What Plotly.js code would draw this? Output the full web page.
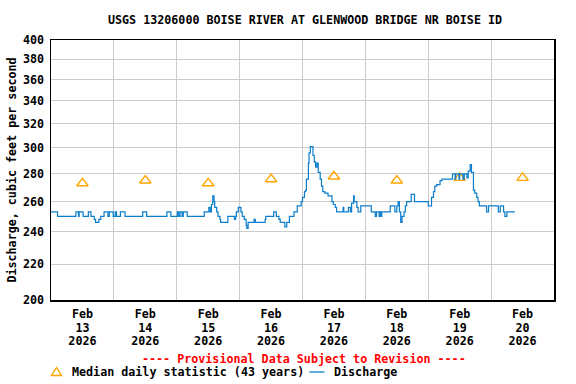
<!DOCTYPE html>
<html>
<head>
<meta charset="utf-8">
<script src="https://cdn.plot.ly/plotly-3.0.1.min.js"></script>
<style>html,body{margin:0;padding:0;background:#fff}#chart{width:576px;height:384px}</style>
</head>
<body>
<div id="chart"></div>
<script>
// ---- data ----
// discharge change points: hours since Feb 13 2026 00:00, and discharge (cfs)
const dischargeHours = [0,2.5,9.5,10.5,10.75,12.25,14.25,15.25,16.5,17,18.25,19,20.25,21.75,22.25,23.75,24.5,25,26.5,28.25,35,36.5,44.25,45.75,48.25,48.75,49.25,50,50.5,52,58.5,60.25,60.75,61.25,61.75,62.25,62.5,63.25,63.75,64.5,64.75,67.5,70,70.5,70.75,71.5,72.5,73,73.75,74.5,74.75,75.25,77.5,78,81.75,82,85,86,87,87.5,89.25,90,91,92.75,94,95.5,96,96.75,97.25,97.5,98.25,98.5,99,100,100.5,101,101.5,102,102.75,103.25,103.75,104.5,105.75,107.25,107.75,108.5,109,111.5,111.75,113.5,114.25,114.75,115.5,115.75,116.75,117.25,118.25,122.25,123.75,124.25,125.25,125.5,126,126.25,129.5,131.25,132,132.5,133,133.5,134,134.75,135.25,135.75,137.5,138.75,144,145.25,146,146.5,147.25,148.5,149.25,153.25,154.25,154.5,155.75,156,157.25,157.75,158.75,159.25,160,160.5,161.25,161.75,162.5,163,163.5,166.25,167,170.75,171.5,172.75,173.25,174,177];
const dischargeCfs = [253,250,253,250,253,250,253,250,248,246,248,250,253,250,253,250,253,250,253,250,253,250,253,250,253,250,253,250,253,250,253,256,253,258,264,260,256,253,250,248,246,250,248,250,253,256,253,250,248,244,242,246,248,246,248,250,253,250,248,246,243,246,250,253,257,260,263,267,268,276,288,296,301,294,289,285,288,281,276,271,267,266,264,260,258,256,253,256,253,256,253,259,264,260,256,253,257,253,250,253,250,253,250,253,257,253,257,260,253,246,250,253,257,260,265,260,257,263,267,271,272,275,276,280,276,280,276,280,276,280,277,282,287,281,268,266,263,260,257,253,257,253,257,253,250,253,253];
// median daily statistic (43 years), at noon of each day
const medianDays = [13,14,15,16,17,18,19,20];
const medianCfs = [273,275,273,276,278,275,277,277];
const yTicks = [200,220,240,260,280,300,320,340,360,380,400];
const medianLabel = 'Median daily statistic (43 years)';
const dischargeLabel = 'Discharge';

// ---- helpers ----
function pad(n){return (n<10?'0':'')+n;}
function hoursToDate(h){
  const totalMin = Math.round(h*60);
  const d = 13 + Math.floor(totalMin/1440);
  const rem = totalMin % 1440;
  return '2026-02-' + pad(d) + ' ' + pad(Math.floor(rem/60)) + ':' + pad(rem%60);
}
const dischargeTimes = dischargeHours.map(hoursToDate);
const medianTimes = medianDays.map(d => '2026-02-' + pad(d) + ' 12:00');
const midnights = [13,14,15,16,17,18,19,20,21].map(d => '2026-02-' + pad(d) + ' 00:00');
const sp = s => '<span style="font-size:11.7px">' + s + '</span>';
const tickText = medianDays.map(d => sp('Feb') + '<br>' + sp(String(d)) + '<br>' + sp('2026'));

const FONT = 'DejaVu Sans Mono, Liberation Mono, monospace';
const baseFont = {family: FONT, size: 11.7, color: '#000', weight: 'bold'};
const ORANGE = '#FFA500', BLUE = '#0a7dcc';

// page geometry helpers (plot area: 51..554 x, 40..300 y)
const M = {l: 51, r: 22, t: 40, b: 84};
const PW = 576 - M.l - M.r, PH = 384 - M.t - M.b;
const px = x => (x - M.l) / PW;
const py = y => (384 - M.b - y) / PH;

const traces = [
  {
    x: medianTimes, y: medianCfs, type: 'scatter', mode: 'markers',
    name: medianLabel,
    marker: {symbol: 'triangle-up-open', size: 10, color: ORANGE, line: {width: 1.4, color: ORANGE}},
    hoverinfo: 'skip'
  },
  {
    x: dischargeTimes, y: dischargeCfs, type: 'scatter', mode: 'lines',
    name: dischargeLabel,
    line: {color: BLUE, width: 1.2, shape: 'hv'},
    hoverinfo: 'skip'
  }
];

const layout = {
  width: 576, height: 384,
  margin: {l: M.l, r: M.r, t: M.t, b: M.b, pad: 0, autoexpand: false},
  paper_bgcolor: '#fff', plot_bgcolor: '#fff',
  font: baseFont,
  showlegend: false,
  title: {
    text: 'USGS 13206000 BOISE RIVER AT GLENWOOD BRIDGE NR BOISE ID',
    font: baseFont, xref: 'paper', x: 0.505, xanchor: 'center',
    yref: 'container', y: 1 - 20/384, yanchor: 'middle'
  },
  xaxis: {
    type: 'date',
    range: [midnights[0], midnights[midnights.length-1]],
    tickmode: 'array', tickvals: medianTimes, ticktext: tickText,
    showgrid: false, ticks: '', automargin: false,
    tickfont: {family: FONT, size: 10.4, color: '#000', weight: 'bold'},
    ticklabelstandoff: 4,
    showline: true, linecolor: '#000', linewidth: 1.5, mirror: true,
    zeroline: false, fixedrange: true,
    minor: {tickmode: 'array', tickvals: midnights, showgrid: true, gridcolor: '#cccccc', gridwidth: 1, ticks: ''}
  },
  yaxis: {
    type: 'log',
    range: [Math.log10(200), Math.log10(400)],
    tickmode: 'array', tickvals: yTicks, ticktext: yTicks.map(String),
    showgrid: true, gridcolor: '#cccccc', gridwidth: 1,
    ticks: '', tickfont: baseFont, ticklabelstandoff: 3,
    showline: true, linecolor: '#000', linewidth: 1.5, mirror: true,
    zeroline: false, fixedrange: true, automargin: false,
    title: {text: 'Discharge, cubic feet per second', font: baseFont, standoff: 4}
  },
  shapes: [
    // legend symbols
    {type: 'path', xref: 'paper', yref: 'paper',
     path: 'M' + px(51.5) + ',' + py(375.5) + ' L' + px(61.5) + ',' + py(375.5) + ' L' + px(56.5) + ',' + py(367.5) + ' Z',
     line: {color: ORANGE, width: 1.4}, fillcolor: 'rgba(0,0,0,0)'},
    {type: 'line', xref: 'paper', yref: 'paper',
     x0: px(309.5), x1: px(324.5), y0: py(372), y1: py(372),
     line: {color: BLUE, width: 1.3}}
  ],
  annotations: [
    {text: '---- Provisional Data Subject to Revision ----',
     xref: 'paper', yref: 'paper', x: px(304), y: py(358.5),
     xanchor: 'center', yanchor: 'middle', showarrow: false, borderpad: 0,
     font: {family: FONT, size: 11.7, color: '#ff0000', weight: 'bold'}},
    {text: medianLabel, xref: 'paper', yref: 'paper', x: px(70.5), y: py(372),
     xanchor: 'left', yanchor: 'middle', showarrow: false, borderpad: 0, font: baseFont},
    {text: dischargeLabel, xref: 'paper', yref: 'paper', x: px(332.5), y: py(372),
     xanchor: 'left', yanchor: 'middle', showarrow: false, borderpad: 0, font: baseFont}
  ]
};

Plotly.newPlot('chart', traces, layout, {staticPlot: true, displayModeBar: false});
</script>
</body>
</html>
